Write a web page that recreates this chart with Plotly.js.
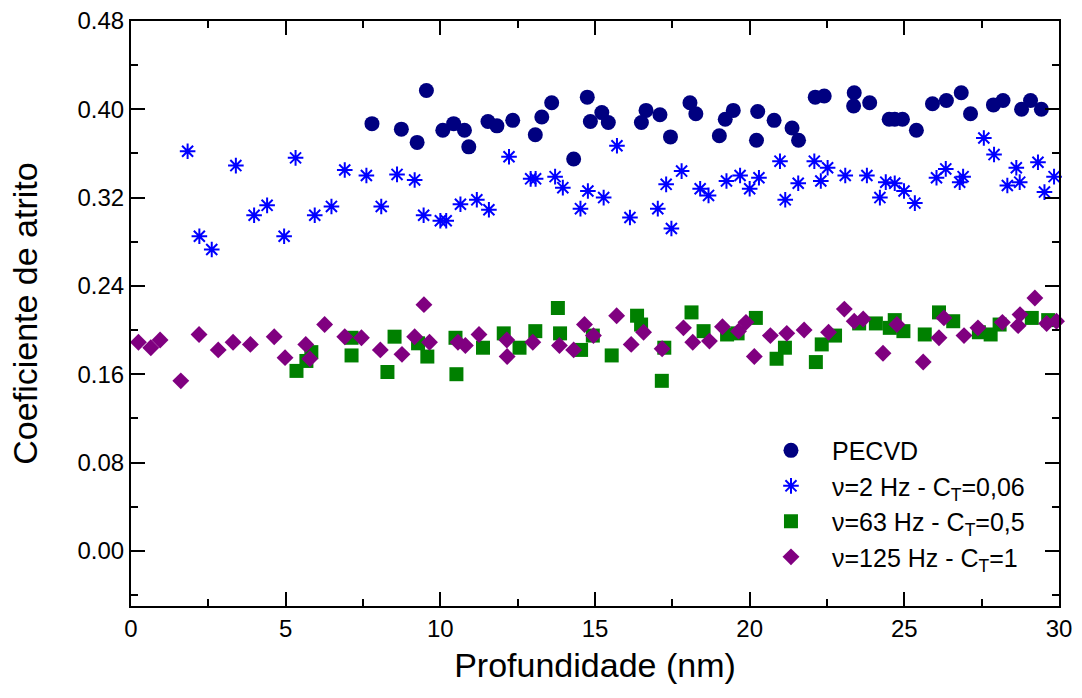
<!DOCTYPE html>
<html>
<head>
<meta charset="utf-8">
<script src="https://cdn.plot.ly/plotly-3.0.1.min.js"></script>
<style>html,body{margin:0;padding:0;background:#fff}#chart{width:1082px;height:698px}</style>
</head>
<body>
<div id="chart"></div>
<script>
const pecvdX = [7.79,8.74,9.25,9.55,10.08,10.43,10.78,10.92,11.54,11.83,12.34,13.07,13.28,13.60,14.31,14.75,14.85,15.22,15.43,16.50,16.65,17.10,17.44,18.07,18.26,19.02,19.21,19.47,20.22,20.26,20.79,21.37,21.58,22.12,22.41,23.36,23.38,23.88,24.51,24.69,24.94,25.39,25.91,26.36,26.84,27.14,27.88,28.19,28.79,29.08,29.43];
const pecvdY = [0.387,0.382,0.370,0.417,0.381,0.387,0.381,0.366,0.389,0.385,0.390,0.377,0.393,0.406,0.355,0.411,0.389,0.397,0.388,0.388,0.399,0.395,0.375,0.406,0.396,0.376,0.391,0.399,0.372,0.398,0.390,0.383,0.372,0.411,0.412,0.403,0.415,0.406,0.391,0.391,0.391,0.381,0.405,0.408,0.415,0.396,0.404,0.408,0.400,0.408,0.400];

const hz2X = [1.83,2.21,2.61,3.39,3.98,4.40,4.95,5.32,5.94,6.48,6.91,7.61,8.09,8.60,9.17,9.46,10.00,10.19,10.65,11.18,11.57,12.22,12.92,13.08,13.71,13.96,14.53,14.77,15.28,15.71,16.13,17.03,17.30,17.47,17.80,18.40,18.67,19.25,19.69,20.00,20.30,20.98,21.15,21.57,22.09,22.30,22.52,23.09,23.79,24.21,24.40,24.69,24.99,25.34,26.04,26.34,26.79,26.90,27.57,27.90,28.33,28.62,28.73,29.32,29.53,29.84];
const hz2Y = [0.362,0.285,0.273,0.349,0.304,0.313,0.285,0.356,0.304,0.312,0.345,0.340,0.312,0.341,0.336,0.304,0.299,0.299,0.314,0.318,0.309,0.357,0.337,0.337,0.339,0.329,0.310,0.326,0.320,0.367,0.302,0.310,0.332,0.292,0.344,0.328,0.322,0.335,0.340,0.328,0.338,0.353,0.318,0.333,0.353,0.335,0.347,0.340,0.340,0.320,0.334,0.333,0.326,0.315,0.338,0.346,0.334,0.339,0.374,0.359,0.331,0.347,0.334,0.352,0.325,0.339];

const hz63X = [5.35,5.67,5.83,7.13,7.13,8.29,8.52,9.28,9.58,10.49,10.52,11.38,12.05,12.56,13.07,13.80,13.87,14.55,14.93,15.54,16.36,16.49,17.16,17.24,18.12,18.51,19.27,19.61,20.20,20.87,21.14,22.14,22.33,22.76,23.54,24.08,24.53,24.69,24.97,25.66,26.12,26.58,27.41,27.79,28.08,29.12,29.65];
const hz63Y = [0.163,0.172,0.180,0.193,0.177,0.162,0.194,0.188,0.176,0.193,0.160,0.184,0.197,0.184,0.199,0.220,0.197,0.182,0.195,0.177,0.213,0.205,0.154,0.184,0.216,0.199,0.196,0.197,0.211,0.174,0.184,0.171,0.187,0.195,0.206,0.206,0.202,0.209,0.199,0.196,0.216,0.208,0.198,0.196,0.205,0.211,0.209];

const hz125X = [0.24,0.64,0.94,1.61,2.20,2.82,3.30,3.86,4.63,4.98,5.65,5.78,6.26,6.91,7.45,8.06,8.76,9.17,9.47,9.65,10.57,10.81,11.25,12.15,12.16,12.99,13.85,14.31,14.66,14.95,15.70,16.17,16.57,17.17,17.86,18.16,18.70,19.12,19.64,19.88,20.15,20.67,21.20,21.76,22.55,23.06,23.38,23.67,24.31,24.76,25.61,26.12,26.28,26.93,27.38,28.17,28.68,28.74,29.22,29.60,29.92];
const hz125Y = [0.189,0.184,0.191,0.154,0.196,0.182,0.189,0.187,0.194,0.175,0.187,0.174,0.205,0.194,0.193,0.182,0.178,0.194,0.223,0.189,0.189,0.186,0.196,0.191,0.176,0.189,0.186,0.182,0.205,0.195,0.213,0.187,0.198,0.183,0.202,0.189,0.190,0.203,0.199,0.207,0.176,0.195,0.197,0.200,0.198,0.219,0.208,0.210,0.179,0.205,0.171,0.193,0.211,0.195,0.202,0.207,0.204,0.214,0.229,0.206,0.208];

const seriesNames = ['PECVD','\u03bd=2 Hz - C<sub>T</sub>=0,06','\u03bd=63 Hz - C<sub>T</sub>=0,5','\u03bd=125 Hz - C<sub>T</sub>=1'];
const xTitle = 'Profundidade (nm)';
const yTitle = 'Coeficiente de atrito';

const FONT = 'Liberation Sans, Arial, Helvetica, sans-serif';

const traces = [
  {x: pecvdX, y: pecvdY, name: seriesNames[0], type: 'scatter', mode: 'markers', cliponaxis: false,
   marker: {symbol: 'circle', size: 15, color: '#000080', line: {width: 0}}},
  {x: hz2X, y: hz2Y, name: seriesNames[1], type: 'scatter', mode: 'markers', cliponaxis: false,
   marker: {symbol: 'asterisk-open', size: 13, color: '#0000FF', line: {width: 2, color: '#0000FF'}}},
  {x: hz63X, y: hz63Y, name: seriesNames[2], type: 'scatter', mode: 'markers', cliponaxis: false,
   marker: {symbol: 'square', size: 14, color: '#008000', line: {width: 0}}},
  {x: hz125X, y: hz125Y, name: seriesNames[3], type: 'scatter', mode: 'markers', cliponaxis: false,
   marker: {symbol: 'diamond', size: 13, color: '#800080', line: {width: 0}}}
];

const axisCommon = {
  showline: true, linecolor: '#000', linewidth: 2, mirror: 'ticks',
  ticks: 'inside', ticklen: 14, tickwidth: 2, tickcolor: '#000',
  showgrid: false, zeroline: false,
  tickfont: {family: FONT, size: 24, color: '#000'}
};

const layout = {
  width: 1082, height: 698,
  paper_bgcolor: '#fff', plot_bgcolor: '#fff',
  margin: {l: 131, r: 23, t: 21, b: 92},
  font: {family: FONT, color: '#000'},
  showlegend: true,
  legend: {x: 0.667, y: 0.305, xanchor: 'left', yanchor: 'top', bgcolor: 'rgba(0,0,0,0)',
           font: {family: FONT, size: 25, color: '#000'}, tracegroupgap: 0, itemsizing: 'trace', itemwidth: 72},
  xaxis: Object.assign({}, axisCommon, {
    range: [0, 30], tick0: 0, dtick: 5,
    minor: {dtick: 2.5, ticks: 'inside', ticklen: 7, tickwidth: 2, tickcolor: '#000', showgrid: false},
    title: {text: xTitle, font: {family: FONT, size: 34, color: '#000'}, standoff: 12}
  }),
  yaxis: Object.assign({}, axisCommon, {
    range: [-0.05, 0.48], tick0: 0, dtick: 0.08, tickformat: '.2f',
    minor: {dtick: 0.04, ticks: 'inside', ticklen: 7, tickwidth: 2, tickcolor: '#000', showgrid: false},
    title: {text: yTitle, font: {family: FONT, size: 34, color: '#000'}, standoff: 30}
  })
};

Plotly.newPlot('chart', traces, layout, {displayModeBar: false, staticPlot: true});
</script>
</body>
</html>
